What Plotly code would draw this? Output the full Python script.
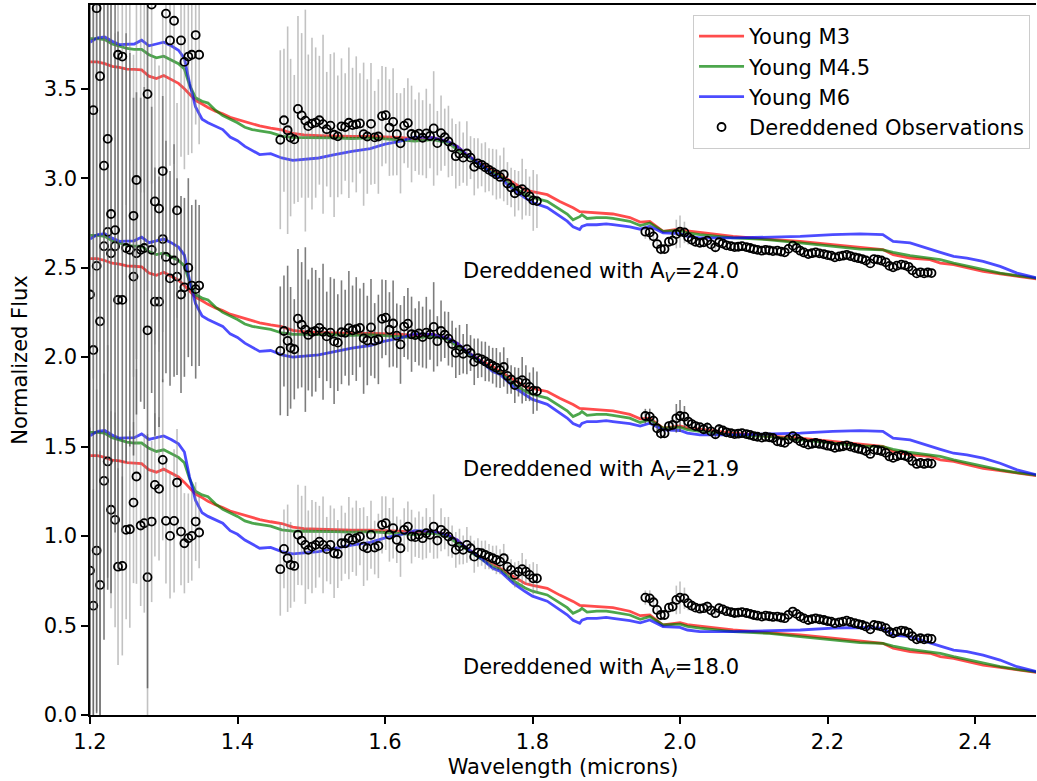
import plotly.graph_objects as go

# ---------------- model spectra (bottom-set level; shifted by offsets) ----------------
model_x = [1.200, 1.210, 1.220, 1.230, 1.240, 1.250, 1.260, 1.270, 1.280, 1.290, 1.300, 1.310,
           1.320, 1.328, 1.335, 1.343, 1.352, 1.360, 1.370, 1.380, 1.390, 1.400, 1.410, 1.420,
           1.430, 1.445, 1.460, 1.475, 1.490, 1.510, 1.530, 1.555, 1.580, 1.600, 1.620, 1.640,
           1.665, 1.685, 1.698, 1.711, 1.730, 1.746, 1.756, 1.774, 1.790, 1.800, 1.820, 1.837,
           1.847, 1.855, 1.864, 1.867, 1.874, 1.887, 1.900, 1.909, 1.932, 1.946, 1.959, 1.977,
           2.000, 2.010, 2.027, 2.072, 2.118, 2.163, 2.207, 2.244, 2.275, 2.289, 2.312, 2.339,
           2.353, 2.371, 2.389, 2.411, 2.434, 2.457, 2.484, 2.500]
young_m3 = [1.450, 1.450, 1.440, 1.425, 1.420, 1.410, 1.408, 1.405, 1.370, 1.357, 1.374, 1.350,
            1.330, 1.300, 1.270, 1.235, 1.215, 1.195, 1.175, 1.160, 1.140, 1.128, 1.115, 1.100,
            1.092, 1.080, 1.070, 1.050, 1.042, 1.038, 1.035, 1.033, 1.033, 1.030, 1.028, 1.020,
            1.027, 1.005, 0.977, 0.930, 0.880, 0.848, 0.820, 0.775, 0.735, 0.725, 0.708, 0.670,
            0.652, 0.635, 0.613, 0.612, 0.610, 0.608, 0.605, 0.600, 0.580, 0.555, 0.559, 0.503,
            0.516, 0.505, 0.497, 0.475, 0.460, 0.447, 0.429, 0.416, 0.401, 0.373, 0.354, 0.345,
            0.326, 0.317, 0.298, 0.279, 0.266, 0.251, 0.237, 0.230]
young_m45 = [1.580, 1.580, 1.575, 1.550, 1.538, 1.525, 1.520, 1.520, 1.490, 1.473, 1.482, 1.462,
             1.440, 1.410, 1.320, 1.250, 1.230, 1.220, 1.180, 1.150, 1.130, 1.110, 1.085, 1.072,
             1.065, 1.055, 1.035, 1.028, 1.027, 1.027, 1.025, 1.022, 1.025, 1.020, 1.015, 1.008,
             1.016, 0.999, 0.960, 0.925, 0.870, 0.830, 0.815, 0.750, 0.710, 0.692, 0.671, 0.624,
             0.600, 0.568, 0.585, 0.596, 0.575, 0.580, 0.580, 0.575, 0.559, 0.535, 0.550, 0.503,
             0.508, 0.495, 0.485, 0.466, 0.457, 0.438, 0.419, 0.404, 0.400, 0.385, 0.367, 0.354,
             0.345, 0.326, 0.310, 0.289, 0.270, 0.255, 0.240, 0.232]
young_m6 = [1.560, 1.585, 1.590, 1.565, 1.547, 1.547, 1.550, 1.571, 1.540, 1.550, 1.560, 1.540,
            1.515, 1.470, 1.330, 1.200, 1.130, 1.110, 1.090, 1.072, 1.030, 1.010, 0.978, 0.955,
            0.932, 0.937, 0.913, 0.900, 0.905, 0.913, 0.930, 0.950, 0.965, 0.990, 1.006, 1.030,
            1.027, 1.006, 0.978, 0.932, 0.876, 0.820, 0.803, 0.735, 0.690, 0.664, 0.636, 0.585,
            0.560, 0.529, 0.513, 0.530, 0.540, 0.540, 0.545, 0.540, 0.528, 0.515, 0.531, 0.494,
            0.490, 0.475, 0.466, 0.466, 0.470, 0.475, 0.485, 0.489, 0.485, 0.447, 0.438, 0.401,
            0.385, 0.363, 0.354, 0.335, 0.307, 0.270, 0.242, 0.235]
set_offsets = [0.0, 1.1, 2.2]

# ---------------- observations ----------------
obs_x_J = [1.200, 1.2045, 1.209, 1.2136, 1.219, 1.224, 1.2285, 1.234, 1.238, 1.2438, 1.249,
           1.254, 1.259, 1.263, 1.2687, 1.2736, 1.278, 1.2836, 1.288, 1.2936, 1.2986, 1.303,
           1.3085, 1.314, 1.318, 1.3234, 1.328, 1.3333, 1.338, 1.3433, 1.348]
obs_x_H = [1.458, 1.463, 1.468, 1.472, 1.477, 1.482, 1.487, 1.492, 1.496, 1.501, 1.506, 1.511,
           1.516, 1.521, 1.526, 1.531, 1.536, 1.541, 1.546, 1.551, 1.556, 1.561, 1.566, 1.571,
           1.576, 1.581, 1.586, 1.591, 1.596, 1.601, 1.606, 1.611, 1.616, 1.621, 1.626, 1.631,
           1.636, 1.641, 1.646, 1.651, 1.656, 1.661, 1.666, 1.671, 1.676, 1.681, 1.686, 1.691,
           1.696, 1.701, 1.706, 1.711, 1.716, 1.721, 1.726, 1.731, 1.736, 1.741, 1.746, 1.751,
           1.756, 1.761, 1.766, 1.771, 1.776, 1.781, 1.786, 1.791, 1.796, 1.801, 1.806]
obs_x_K = [1.953, 1.959, 1.964, 1.969, 1.974, 1.979, 1.985, 1.990, 1.995, 2.000, 2.006, 2.011,
           2.016, 2.021, 2.027, 2.032, 2.037, 2.042, 2.048, 2.053, 2.058, 2.063, 2.069, 2.074,
           2.079, 2.084, 2.090, 2.095, 2.100, 2.105, 2.111, 2.116, 2.121, 2.126, 2.132, 2.137,
           2.142, 2.147, 2.153, 2.158, 2.163, 2.168, 2.174, 2.179, 2.184, 2.189, 2.195, 2.200,
           2.205, 2.210, 2.216, 2.221, 2.226, 2.231, 2.237, 2.242, 2.247, 2.252, 2.258, 2.263,
           2.268, 2.273, 2.279, 2.284, 2.289, 2.294, 2.300, 2.305, 2.310, 2.315, 2.321, 2.326,
           2.331, 2.336, 2.341]

# A_V = 18.0 (bottom)
flux18_J = [0.807, 0.611, 0.919, 0.727, 1.309, 1.417, 1.147, 1.091, 0.829, 0.833, 1.035, 1.038,
            1.187, 1.333, 1.059, 1.072, 0.770, 1.081, 1.286, 1.264, 1.426, 1.085, 1.001, 1.085,
            1.299, 1.025, 0.960, 0.988, 1.001, 1.081, 1.020]
flux18_H = [0.815, 0.928, 0.876, 0.839, 0.833, 1.007, 0.975, 0.951, 0.923, 0.941, 0.951, 0.969,
            0.951, 0.927, 0.951, 0.904, 0.900, 0.960, 0.960, 0.988, 0.979, 0.988, 0.997, 0.941,
            0.932, 1.007, 0.936, 0.945, 1.063, 1.072, 1.007, 1.044, 0.979, 0.932, 1.035, 1.053,
            0.997, 0.994, 1.007, 0.988, 1.016, 1.007, 1.053, 0.975, 1.035, 1.016, 0.997, 0.969,
            0.923, 0.941, 0.923, 0.951, 0.932, 0.885, 0.908, 0.904, 0.895, 0.885, 0.876, 0.867,
            0.857, 0.876, 0.829, 0.811, 0.783, 0.801, 0.815, 0.801, 0.783, 0.764, 0.764]
flux18_K = [0.656, 0.652, 0.630, 0.587, 0.559, 0.559, 0.600, 0.606, 0.643, 0.656, 0.652, 0.625,
            0.611, 0.600, 0.594, 0.597, 0.606, 0.585, 0.569, 0.597, 0.590, 0.580, 0.575, 0.570,
            0.572, 0.575, 0.570, 0.565, 0.559, 0.555, 0.550, 0.555, 0.552, 0.548, 0.550, 0.545,
            0.541, 0.560, 0.578, 0.565, 0.550, 0.540, 0.531, 0.536, 0.540, 0.535, 0.531, 0.525,
            0.522, 0.513, 0.518, 0.522, 0.527, 0.520, 0.513, 0.508, 0.503, 0.495, 0.479, 0.503,
            0.500, 0.495, 0.485, 0.465, 0.457, 0.466, 0.472, 0.468, 0.460, 0.440, 0.423, 0.429,
            0.423, 0.428, 0.425]

# A_V = 21.9 (middle)
flux219_J = [2.35, 2.04, 2.51, 2.20, 2.62, 2.70, 2.58, 2.62, 2.32, 2.32, 2.61, 2.60, 2.45, 2.58,
             2.60, 2.61, 2.15, 2.60, 2.31, 2.31, 2.66, 2.56, 2.44, 2.54, 2.45, 2.35, 2.39, 2.50,
             2.40, 2.38, 2.40]
flux219_H = [2.035, 2.146, 2.091, 2.052, 2.044, 2.215, 2.181, 2.154, 2.124, 2.140, 2.147, 2.163,
             2.142, 2.116, 2.137, 2.088, 2.081, 2.139, 2.136, 2.162, 2.150, 2.157, 2.163, 2.105,
             2.093, 2.166, 2.092, 2.099, 2.214, 2.221, 2.153, 2.188, 2.120, 2.071, 2.171, 2.187,
             2.128, 2.123, 2.133, 2.112, 2.137, 2.126, 2.169, 2.089, 2.146, 2.125, 2.103, 2.073,
             2.024, 2.040, 2.019, 2.045, 2.023, 1.974, 1.994, 1.988, 1.976, 1.964, 1.952, 1.941,
             1.928, 1.945, 1.895, 1.875, 1.844, 1.860, 1.871, 1.855, 1.834, 1.813, 1.810]
flux219_K = [1.671, 1.667, 1.645, 1.602, 1.574, 1.574, 1.615, 1.621, 1.658, 1.671, 1.667, 1.640,
             1.626, 1.615, 1.609, 1.597, 1.606, 1.585, 1.569, 1.597, 1.590, 1.580, 1.575, 1.570,
             1.572, 1.575, 1.570, 1.565, 1.559, 1.555, 1.550, 1.555, 1.552, 1.548, 1.530, 1.525,
             1.521, 1.540, 1.558, 1.545, 1.530, 1.520, 1.511, 1.516, 1.520, 1.515, 1.511, 1.505,
             1.502, 1.493, 1.498, 1.502, 1.507, 1.500, 1.493, 1.488, 1.483, 1.475, 1.459, 1.483,
             1.480, 1.475, 1.465, 1.445, 1.437, 1.446, 1.452, 1.448, 1.440, 1.420, 1.403, 1.409,
             1.403, 1.408, 1.405]

# A_V = 24.0 (top)
flux24_J = [4.05, 3.38, 3.95, 3.57, 3.07, 3.22, 2.80, 2.71, 3.69, 3.68, 4.05, 4.10, 2.79, 2.99,
            4.02, 4.12, 3.47, 3.97, 2.87, 2.83, 3.04, 3.92, 3.77, 3.88, 2.82, 3.77, 3.65, 3.68,
            3.69, 3.80, 3.69]
flux24_H = [3.215, 3.324, 3.268, 3.227, 3.217, 3.387, 3.351, 3.322, 3.291, 3.305, 3.311, 3.324,
            3.302, 3.274, 3.294, 3.243, 3.234, 3.290, 3.286, 3.310, 3.297, 3.301, 3.306, 3.246,
            3.233, 3.304, 3.228, 3.233, 3.347, 3.352, 3.283, 3.315, 3.246, 3.195, 3.294, 3.308,
            3.247, 3.240, 3.249, 3.226, 3.250, 3.236, 3.278, 3.196, 3.252, 3.229, 3.205, 3.173,
            3.123, 3.137, 3.115, 3.138, 3.115, 3.064, 3.083, 3.075, 3.061, 3.047, 3.034, 3.021,
            3.007, 3.021, 2.970, 2.948, 2.916, 2.930, 2.939, 2.921, 2.899, 2.876, 2.872]
flux24_K = [2.701, 2.697, 2.675, 2.632, 2.604, 2.604, 2.645, 2.651, 2.688, 2.701, 2.697, 2.670,
            2.656, 2.645, 2.639, 2.642, 2.651, 2.630, 2.614, 2.642, 2.635, 2.625, 2.620, 2.615,
            2.617, 2.620, 2.615, 2.610, 2.604, 2.600, 2.595, 2.600, 2.597, 2.593, 2.595, 2.590,
            2.586, 2.605, 2.623, 2.610, 2.595, 2.585, 2.576, 2.581, 2.585, 2.580, 2.576, 2.570,
            2.567, 2.558, 2.563, 2.567, 2.572, 2.565, 2.558, 2.553, 2.548, 2.540, 2.524, 2.548,
            2.545, 2.540, 2.530, 2.510, 2.502, 2.511, 2.517, 2.513, 2.505, 2.485, 2.468, 2.474,
            2.468, 2.473, 2.470]

# uncertainties
err18_J = [0.80, 0.65, 0.90, 0.75, 0.60, 0.65, 0.55, 0.60, 0.55, 0.50, 0.50, 0.55, 0.45, 0.60,
           0.45, 0.50, 0.80, 0.45, 0.40, 0.40, 0.45, 0.35, 0.35, 0.40, 0.30, 0.30, 0.28, 0.25,
           0.25, 0.22, 0.20]
err219_J = [2.6, 2.4, 2.5, 2.3, 2.2, 2.0, 1.9, 1.6, 1.5, 1.3, 1.2, 1.1, 1.0, 0.9, 0.85, 0.9,
            2.0, 0.8, 0.75, 0.7, 0.8, 0.65, 0.6, 0.65, 0.55, 0.55, 0.5, 0.5, 0.45, 0.5, 0.45]
err24_J = [1.6, 1.5, 1.7, 1.4, 1.3, 1.3, 1.2, 1.1, 1.2, 1.1, 1.2, 1.0, 0.9, 1.0, 1.1, 1.2,
           1.1, 1.0, 0.8, 0.8, 0.9, 0.9, 0.7, 0.8, 0.6, 0.65, 0.6, 0.55, 0.55, 0.5, 0.5]
err18_H = [0.26, 0.22, 0.30, 0.24, 0.20, 0.28, 0.25, 0.33, 0.22, 0.26,
           0.24, 0.20, 0.27, 0.18, 0.22, 0.25, 0.19, 0.21, 0.17, 0.23,
           0.18, 0.21, 0.16, 0.22, 0.18, 0.19, 0.15, 0.18, 0.16, 0.15,
           0.15, 0.17, 0.13, 0.16, 0.12, 0.14, 0.15, 0.11, 0.13, 0.12,
           0.14, 0.10, 0.18, 0.10, 0.12, 0.09, 0.11, 0.09, 0.10, 0.10,
           0.08, 0.10, 0.07, 0.09, 0.08, 0.07, 0.08, 0.07, 0.07, 0.08,
           0.07, 0.08, 0.07, 0.06, 0.07, 0.06, 0.09, 0.07, 0.06, 0.09, 0.08]
err219_H = [0.36, 0.31, 0.42, 0.34, 0.28, 0.39, 0.35, 0.46, 0.31, 0.36,
            0.34, 0.28, 0.38, 0.25, 0.31, 0.35, 0.27, 0.29, 0.24, 0.32,
            0.25, 0.29, 0.22, 0.31, 0.25, 0.27, 0.21, 0.25, 0.22, 0.21,
            0.21, 0.24, 0.18, 0.22, 0.17, 0.20, 0.21, 0.15, 0.18, 0.17,
            0.20, 0.14, 0.25, 0.14, 0.17, 0.13, 0.15, 0.13, 0.14, 0.14,
            0.11, 0.14, 0.10, 0.13, 0.11, 0.10, 0.11, 0.10, 0.10, 0.11,
            0.10, 0.11, 0.10, 0.08, 0.10, 0.08, 0.13, 0.10, 0.08, 0.13, 0.11]
err24_H = [0.50, 0.40, 0.58, 0.44, 0.36, 0.52, 0.46, 0.62, 0.40, 0.48,
           0.42, 0.36, 0.50, 0.32, 0.40, 0.46, 0.34, 0.38, 0.30, 0.42,
           0.32, 0.38, 0.28, 0.40, 0.32, 0.34, 0.26, 0.32, 0.28, 0.27,
           0.27, 0.30, 0.23, 0.28, 0.21, 0.25, 0.27, 0.20, 0.23, 0.21,
           0.25, 0.18, 0.32, 0.18, 0.21, 0.16, 0.20, 0.16, 0.18, 0.18,
           0.14, 0.18, 0.12, 0.16, 0.14, 0.12, 0.14, 0.12, 0.13, 0.14,
           0.12, 0.15, 0.12, 0.11, 0.13, 0.11, 0.17, 0.13, 0.11, 0.17, 0.15]
err_K = [0.040, 0.045, 0.035, 0.030, 0.030, 0.025, 0.025, 0.030, 0.080, 0.090, 0.060, 0.040,
         0.030, 0.025, 0.020, 0.020, 0.030, 0.020, 0.020, 0.030, 0.015, 0.012, 0.012, 0.015,
         0.012, 0.012, 0.010, 0.012, 0.012, 0.010, 0.010, 0.012, 0.010, 0.010, 0.012, 0.010,
         0.010, 0.012, 0.012, 0.010, 0.010, 0.010, 0.012, 0.010, 0.010, 0.010, 0.010, 0.012,
         0.010, 0.010, 0.010, 0.012, 0.010, 0.010, 0.010, 0.010, 0.012, 0.010, 0.010, 0.010,
         0.010, 0.010, 0.012, 0.010, 0.010, 0.010, 0.012, 0.010, 0.010, 0.010, 0.012, 0.010,
         0.010, 0.010, 0.010]

av_labels = ["18.0", "21.9", "24.0"]
label_x = 1.703
label_y = [0.263, 1.370, 2.478]

FONT = "DejaVu Sans"
FS = 21
RED = "rgba(255,0,0,0.7)"
GREEN = "rgba(0,128,0,0.7)"
BLUE = "rgba(0,0,255,0.7)"
LIGHT_ERR = "rgba(128,128,128,0.48)"
DARK_ERR = "rgba(70,70,70,0.7)"

fig = go.Figure()

models = [("Young M3", young_m3, RED), ("Young M4.5", young_m45, GREEN), ("Young M6", young_m6, BLUE)]
for k, off in enumerate(set_offsets):
    for name, vals, col in models:
        fig.add_trace(go.Scatter(
            x=model_x, y=[v + off for v in vals], mode="lines", name=name,
            legendgroup=name, showlegend=(k == 0),
            line=dict(color=col, width=2.8)))

obs_x = obs_x_J + obs_x_H + obs_x_K
obs_sets = [
    (flux18_J + flux18_H + flux18_K, err18_J + err18_H + err_K, LIGHT_ERR),
    (flux219_J + flux219_H + flux219_K, err219_J + err219_H + err_K, DARK_ERR),
    (flux24_J + flux24_H + flux24_K, err24_J + err24_H + err_K, LIGHT_ERR),
]
for k, (fy, fe, ecol) in enumerate(obs_sets):
    fig.add_trace(go.Scatter(
        x=obs_x, y=fy, mode="markers", name="Dereddened Observations",
        legendgroup="obs", showlegend=(k == 0),
        marker=dict(symbol="circle-open", size=8, color="black", line=dict(width=1.8)),
        error_y=dict(type="data", array=fe, visible=True, color=ecol, thickness=1.6, width=0)))

for av, ly in zip(av_labels, label_y):
    fig.add_annotation(x=label_x, y=ly, xref="x", yref="y", showarrow=False,
                       xanchor="left", yanchor="middle",
                       text="Dereddened with A<sub><i>V</i></sub>=" + av,
                       font=dict(family=FONT, size=FS, color="black"))

fig.update_layout(
    width=1037, height=781,
    margin=dict(l=90, r=1, t=5, b=66),
    paper_bgcolor="white", plot_bgcolor="white",
    font=dict(family=FONT, size=FS, color="black"),
    showlegend=True,
    legend=dict(x=0.9937, y=0.986, xanchor="right", yanchor="top",
                bgcolor="rgba(255,255,255,0.8)", bordercolor="#cccccc", borderwidth=1,
                font=dict(family=FONT, size=FS, color="black"),
                tracegroupgap=0, itemwidth=45),
)
fig.update_xaxes(range=[1.2, 2.4827], tickvals=[1.2, 1.4, 1.6, 1.8, 2.0, 2.2, 2.4],
                 tickformat=".1f", ticks="outside", ticklen=7, tickwidth=1.5, tickcolor="black",
                 showline=True, linecolor="black", linewidth=1.5, mirror=True,
                 showgrid=False, zeroline=False, automargin=False,
                 title=dict(text="Wavelength (microns)", standoff=6,
                            font=dict(family=FONT, size=FS)),
                 tickfont=dict(family=FONT, size=FS))
fig.update_yaxes(range=[0, 3.968], tickvals=[0, 0.5, 1.0, 1.5, 2.0, 2.5, 3.0, 3.5],
                 tickformat=".1f", ticks="outside", ticklen=7, tickwidth=1.5, tickcolor="black",
                 showline=True, linecolor="black", linewidth=1.5, mirror=False,
                 showgrid=False, zeroline=False, automargin=False,
                 title=dict(text="Normalized Flux", standoff=10,
                            font=dict(family=FONT, size=FS)),
                 tickfont=dict(family=FONT, size=FS))

fig.write_html("out.html",
               config={"displayModeBar": False},
               post_script="document.body.style.margin='0';document.body.style.overflow='hidden';")
